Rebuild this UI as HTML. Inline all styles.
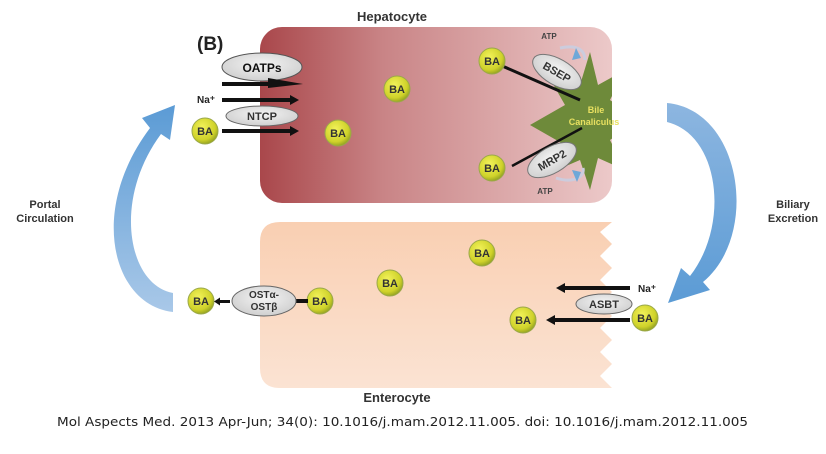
<!DOCTYPE html>
<html><head><style>body{margin:0;background:#fff}svg{display:block}</style></head><body>
<svg width="826" height="454" viewBox="0 0 826 454" xmlns="http://www.w3.org/2000/svg" font-family="Liberation Sans, sans-serif">
<defs>
<linearGradient id="hep" x1="0" x2="1" y1="0" y2="0"><stop offset="0" stop-color="#a9474b"/><stop offset="0.35" stop-color="#c98486"/><stop offset="1" stop-color="#ecc9c9"/></linearGradient>
<linearGradient id="ent" x1="0" x2="0" y1="0" y2="1"><stop offset="0" stop-color="#f9cfb2"/><stop offset="1" stop-color="#fbe3d3"/></linearGradient>
<radialGradient id="ba" cx="0.4" cy="0.35" r="0.7"><stop offset="0" stop-color="#f2f25a"/><stop offset="0.7" stop-color="#cfd22a"/><stop offset="1" stop-color="#8a9a20"/></radialGradient>
<radialGradient id="el" cx="0.5" cy="0.4" r="0.6"><stop offset="0" stop-color="#f4f4f4"/><stop offset="1" stop-color="#cfcfcf"/></radialGradient>
<linearGradient id="blue" x1="0" x2="0" y1="0" y2="1"><stop offset="0" stop-color="#5b9bd5"/><stop offset="1" stop-color="#a9c8e8"/></linearGradient>
<linearGradient id="blue2" x1="0" x2="0" y1="0" y2="1"><stop offset="0" stop-color="#8db6e0"/><stop offset="1" stop-color="#5b9bd5"/></linearGradient>
<clipPath id="hc"><rect x="260" y="27" width="352" height="176" rx="22"/></clipPath>
<g id="BA"><circle r="13" fill="url(#ba)" stroke="#9aa84a" stroke-width="1"/><text y="4" text-anchor="middle" font-size="11" font-weight="bold" fill="#333">BA</text></g>
</defs>
<text x="392" y="21" text-anchor="middle" font-size="13" font-weight="bold" fill="#333">Hepatocyte</text>
<rect x="260" y="27" width="352" height="176" rx="22" fill="url(#hep)"/>
<g clip-path="url(#hc)">
<polygon points="590,52 598,85 625,70 610,100 640,120 610,140 625,170 598,158 590,190 580,160 545,175 565,145 530,125 565,105 545,70 580,85" fill="#6e8a3a"/>
</g>
<text x="596" y="113" text-anchor="middle" font-size="9" font-weight="bold" fill="#e8e060">Bile</text>
<text x="594" y="125" text-anchor="middle" font-size="9" font-weight="bold" fill="#e8e060">Canaliculus</text>
<path d="M560,48 C580,44 585,52 585,60" fill="none" stroke="#ccd" stroke-width="3"/>
<path d="M572,60 l4,-12 l5,10 z" fill="#6ea8d8"/>
<path d="M556,178 C575,184 585,176 583,168" fill="none" stroke="#ccd" stroke-width="3"/>
<path d="M572,170 l5,12 l4,-10 z" fill="#6ea8d8"/>
<text x="549" y="39" text-anchor="middle" font-size="8" font-weight="bold" fill="#444">ATP</text>
<text x="545" y="194" text-anchor="middle" font-size="8" font-weight="bold" fill="#444">ATP</text>
<line x1="500" y1="65" x2="580" y2="100" stroke="#111" stroke-width="3"/>
<line x1="512" y1="166" x2="582" y2="128" stroke="#111" stroke-width="2.5"/>
<ellipse cx="557" cy="72" rx="27" ry="13" transform="rotate(30 557 72)" fill="url(#el)" stroke="#777"/>
<text x="557" y="76" text-anchor="middle" font-size="11" font-weight="bold" fill="#333" transform="rotate(30 557 72)">BSEP</text>
<ellipse cx="552" cy="160" rx="27" ry="13" transform="rotate(-30 552 160)" fill="url(#el)" stroke="#777"/>
<text x="552" y="164" text-anchor="middle" font-size="11" font-weight="bold" fill="#333" transform="rotate(-30 552 160)">MRP2</text>
<use href="#BA" x="492" y="61"/><use href="#BA" x="492" y="168"/>
<use href="#BA" x="397" y="89"/><use href="#BA" x="338" y="133"/>
<text x="197" y="50" font-size="19" font-weight="bold" fill="#222">(B)</text>
<ellipse cx="262" cy="67" rx="40" ry="14" fill="url(#el)" stroke="#555"/>
<text x="262" y="72" text-anchor="middle" font-size="12" font-weight="bold" fill="#111">OATPs</text>
<path d="M222,82 L268,82 L268,78 L303,84 L268,88 L268,86 L222,86 Z" fill="#111"/>
<text x="197" y="103" font-size="10" font-weight="bold" fill="#222">Na⁺</text>
<rect x="222" y="98" width="70" height="4" fill="#111"/><path d="M290,95 l9,5 l-9,5 z" fill="#111"/>
<ellipse cx="262" cy="116" rx="36" ry="10" fill="url(#el)" stroke="#666"/>
<text x="262" y="120" text-anchor="middle" font-size="11" font-weight="bold" fill="#333">NTCP</text>
<use href="#BA" x="205" y="131"/>
<rect x="222" y="129" width="70" height="4" fill="#111"/><path d="M290,126 l9,5 l-9,5 z" fill="#111"/>
<path d="M260,222 L612,222 L600,232 L612,244 L600,256 L612,268 L600,280 L612,292 L600,304 L612,316 L600,328 L612,340 L600,352 L612,364 L600,376 L612,388 L280,388 Q260,388 260,368 L260,242 Q260,222 280,222 Z" fill="url(#ent)"/>
<text x="397" y="402" text-anchor="middle" font-size="13" font-weight="bold" fill="#333">Enterocyte</text>
<use href="#BA" x="482" y="253"/><use href="#BA" x="390" y="283"/>
<use href="#BA" x="201" y="301"/><use href="#BA" x="320" y="301"/>
<rect x="292" y="299" width="16" height="4" fill="#111"/>
<rect x="218" y="300" width="12" height="3" fill="#111"/><path d="M214,301.5 l6,-4 l0,8 z" fill="#111"/>
<ellipse cx="264" cy="301" rx="32" ry="15" fill="url(#el)" stroke="#666"/>
<text x="264" y="298" text-anchor="middle" font-size="10" font-weight="bold" fill="#333">OSTα-</text>
<text x="264" y="310" text-anchor="middle" font-size="10" font-weight="bold" fill="#333">OSTβ</text>
<rect x="562" y="286" width="68" height="4" fill="#111"/><path d="M556,288 l9,-5 l0,10 z" fill="#111"/>
<text x="638" y="292" font-size="10" font-weight="bold" fill="#222">Na⁺</text>
<ellipse cx="604" cy="304" rx="28" ry="10" fill="url(#el)" stroke="#666"/>
<text x="604" y="308" text-anchor="middle" font-size="11" font-weight="bold" fill="#333">ASBT</text>
<rect x="552" y="318" width="78" height="4" fill="#111"/><path d="M546,320 l9,-5 l0,10 z" fill="#111"/>
<use href="#BA" x="523" y="320"/><use href="#BA" x="645" y="318"/>
<path d="M173,312 C112,305 88,210 150,128 L142,118 L175,105 L170,140 L161,134 C112,200 128,285 173,293 Z" fill="url(#blue)"/>
<path d="M667,103 C742,110 760,235 703,282 L710,290 L668,303 L681,268 L690,276 C730,225 720,135 667,122 Z" fill="url(#blue2)"/>
<text x="45" y="208" text-anchor="middle" font-size="11" font-weight="bold" fill="#333">Portal</text>
<text x="45" y="222" text-anchor="middle" font-size="11" font-weight="bold" fill="#333">Circulation</text>
<text x="793" y="208" text-anchor="middle" font-size="11" font-weight="bold" fill="#333">Biliary</text>
<text x="793" y="222" text-anchor="middle" font-size="11" font-weight="bold" fill="#333">Excretion</text>
<text x="57" y="426" font-family="DejaVu Sans, sans-serif" font-size="12" fill="#222" textLength="691" lengthAdjust="spacingAndGlyphs">Mol Aspects Med. 2013 Apr-Jun; 34(0): 10.1016/j.mam.2012.11.005. doi:  10.1016/j.mam.2012.11.005</text>
</svg>
</body></html>
